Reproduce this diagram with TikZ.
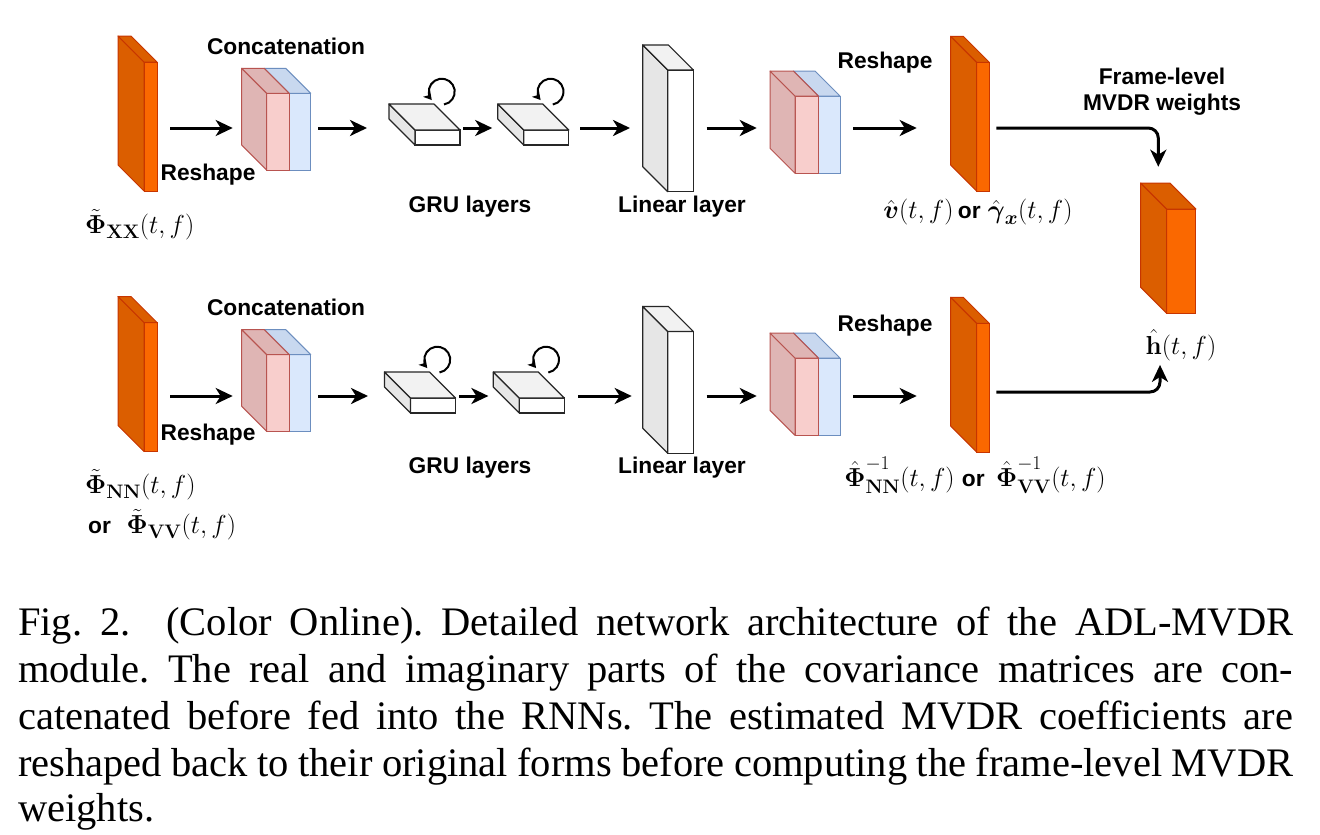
\RequirePackage{fix-cm}
\documentclass[tikz,border=0pt]{standalone}
\usepackage{amsmath}
\usepackage[no-math]{fontspec}
\setsansfont{Liberation Sans}
\newfontfamily\capfont{Liberation Serif}
\usetikzlibrary{arrows.meta}
\DeclareMathSizes{26}{26}{19.5}{15}

\definecolor{orfront}{HTML}{FA6800}
\definecolor{orside}{HTML}{DB5E00}
\definecolor{orline}{HTML}{C73500}
\definecolor{pkfront}{HTML}{F8CECC}
\definecolor{pkside}{HTML}{DFB5B4}
\definecolor{pkline}{HTML}{B85450}
\definecolor{blfront}{HTML}{DAE8FC}
\definecolor{bltop}{HTML}{C8D8EF}
\definecolor{blline}{HTML}{6C8EBF}
\definecolor{gyside}{HTML}{E6E6E6}
\definecolor{gytop}{HTML}{F2F2F2}

% cuboid: name, x, y, width, height, depth, front style, side style, top style
\newcommand{\cuboid}[9]{%
  \node[#7, minimum width=#4, minimum height=#5] (#1) at (#2,#3) {};
  \draw[#8] (#1.north west) -- ++(-#6,-#6) -- ++(0,#5) -- (#1.south west) -- cycle;
  \draw[#9] (#1.north west) -- ++(-#6,-#6) -- ++(#4,0) -- (#1.north east) -- cycle;
}
\newcommand{\orword}{{\fontsize{22.75}{26}\sffamily\bfseries or}}

\begin{document}
\frenchspacing
\begin{tikzpicture}[x=1pt,y=1pt,yscale=-1,
  orf/.style={draw=orline, fill=orfront, line width=1pt, inner sep=0pt, outer sep=0pt},
  ors/.style={draw=orline, fill=orside, line width=1pt, line join=round},
  pkf/.style={draw=pkline, fill=pkfront, line width=1pt, inner sep=0pt, outer sep=0pt},
  pks/.style={draw=pkline, fill=pkside, line width=1pt, line join=round},
  blf/.style={draw=blline, fill=blfront, line width=1pt, inner sep=0pt, outer sep=0pt},
  blt/.style={draw=blline, fill=bltop, line width=1pt, line join=round},
  grf/.style={draw=black!85, fill=white, line width=1.2pt, inner sep=0pt, outer sep=0pt},
  grs/.style={draw=black!85, fill=gyside, line width=1.2pt, line join=round},
  grt/.style={draw=black!85, fill=gytop, line width=1.2pt, line join=round},
  arr/.style={-{Stealth[length=17pt,width=16pt,inset=5pt]}, line width=3pt},
  loopy/.style={-{Stealth[length=8pt,width=9pt,inset=2pt]}, line width=2pt},
  lbl/.style={font=\fontsize{22.75}{26}\sffamily\bfseries, inner sep=0pt},
  mlbl/.style={font=\fontsize{26}{30}\selectfont, inner sep=0pt},
  captext/.style={font=\fontsize{40.5}{47}\capfont, inner sep=0pt, anchor=base west}]
\useasboundingbox[fill=white] (0,0) rectangle (1320,835);

\coordinate (r1) at (0,128);
\coordinate (r2) at (0,396);
\coordinate (r2l) at (0,392);

%Shape: top row blocks
\cuboid{in1}{150.5}{126.5}{13}{129}{26}{orf}{ors}{ors}
\cuboid{cat1b}{300}{131.7}{21.4}{76.7}{25}{blf}{draw=none}{blt}
\cuboid{cat1p}{278}{131.7}{22.6}{76.7}{25}{pkf}{pks}{pks}
\cuboid{gruA1}{437.5}{137.5}{45}{15}{26}{grf}{grs}{grt}
\cuboid{gruB1}{546.3}{137.5}{45}{15}{26}{grf}{grs}{grt}
\cuboid{lin1}{680.5}{130.8}{25.6}{121.7}{25}{grf}{grs}{grt}
\cuboid{rs1b}{829.2}{134.7}{21.7}{77.3}{25}{blf}{draw=none}{blt}
\cuboid{rs1p}{806.7}{134.7}{23.3}{77.3}{25}{pkf}{pks}{pks}
\cuboid{out1}{983}{126.7}{12.6}{128.7}{26}{orf}{ors}{ors}

%Shape: bottom row blocks
\cuboid{in2}{150.5}{387}{13}{129}{26}{orf}{ors}{ors}
\cuboid{cat2b}{300}{393}{21.4}{76.7}{25}{blf}{draw=none}{blt}
\cuboid{cat2p}{278}{393}{22.6}{76.7}{25}{pkf}{pks}{pks}
\cuboid{gruA2}{433}{405.5}{45}{15}{26}{grf}{grs}{grt}
\cuboid{gruB2}{541.8}{405.5}{45}{15}{26}{grf}{grs}{grt}
\cuboid{lin2}{680.5}{392.3}{25.6}{121.7}{25}{grf}{grs}{grt}
\cuboid{rs2b}{829.2}{396.7}{21.7}{77.3}{25}{blf}{draw=none}{blt}
\cuboid{rs2p}{806.7}{396.7}{23.3}{77.3}{25}{pkf}{pks}{pks}
\cuboid{out2}{983}{387.7}{12.6}{128.7}{26}{orf}{ors}{ors}

%Shape: frame-level weights block
\cuboid{hw}{1181.3}{261.2}{29.3}{104.3}{26}{orf}{ors}{ors}

%Recurrent loops
\draw[loopy] (gruA1.north) ++(6.5,-25.5) arc[start angle=80, end angle=-220, radius=13];
\draw[loopy] (gruB1.north) ++(6.5,-25.5) arc[start angle=80, end angle=-220, radius=13];
\draw[loopy] (gruA2.north) ++(6.5,-25.5) arc[start angle=80, end angle=-220, radius=13];
\draw[loopy] (gruB2.north) ++(6.5,-25.5) arc[start angle=80, end angle=-220, radius=13];

%Arrows top row
\draw[arr, shorten <=13pt, shorten >=34pt] (in1.east |- r1) -- (cat1p.west |- r1);
\draw[arr, shorten <=7.3pt, shorten >=48pt] (cat1b.east |- r1) -- (gruA1.west |- r1);
\draw[arr, shorten <=3.3pt, shorten >=31.6pt] (gruA1.east |- r1) -- (gruB1.west |- r1);
\draw[arr, shorten <=11.4pt, shorten >=37.7pt] (gruB1.east |- r1) -- (lin1.west |- r1);
\draw[arr, shorten <=13.4pt, shorten >=38.3pt] (lin1.east |- r1) -- (rs1p.west |- r1);
\draw[arr, shorten <=13.3pt, shorten >=60pt] (rs1b.east |- r1) -- (out1.west |- r1);
\draw[arr, rounded corners=10pt, shorten <=7pt, shorten >=42.3pt] (out1.east |- r1) -| ([xshift=-23pt]hw.north);

%Arrows bottom row
\draw[arr, shorten <=13pt, shorten >=34pt] (in2.east |- r2) -- (cat2p.west |- r2);
\draw[arr, shorten <=7.3pt, shorten >=42.5pt] (cat2b.east |- r2) -- (gruA2.west |- r2);
\draw[arr, shorten <=3.8pt, shorten >=30.9pt] (gruA2.east |- r2) -- (gruB2.west |- r2);
\draw[arr, shorten <=14pt, shorten >=36pt] (gruB2.east |- r2) -- (lin2.west |- r2);
\draw[arr, shorten <=13.4pt, shorten >=38.3pt] (lin2.east |- r2) -- (rs2p.west |- r2);
\draw[arr, shorten <=13.3pt, shorten >=60pt] (rs2b.east |- r2) -- (out2.west |- r2);

% Text Node
\node[lbl] (cc1) at (286,46) {Concatenation};
\node[lbl] (rsh1) at (208,175) {Reshape};
\node[mlbl, anchor=west] (phixx) at (85,225) {$\tilde{\boldsymbol{\Phi}}_{\mathbf{XX}}(t,f)$};
\node[lbl] (gru1) at (470,207) {GRU layers};
\node[lbl] (lay1) at (682,207) {Linear layer};
\node[lbl] (rsh1b) at (885,63) {Reshape};
\node[mlbl] (vlab) at (978,212) {$\hat{\boldsymbol{v}}(t,f)$\,\orword\;$\hat{\boldsymbol{\gamma}}_{\boldsymbol{x}}(t,f)$};
\node[lbl, align=center] (fl) at (1162,92) {Frame-level\\MVDR weights};
\node[mlbl] (hlab) at (1181,345) {$\hat{\mathbf{h}}(t,f)$};

% Text Node
\node[lbl] (cc2) at (286,307) {Concatenation};
\node[lbl] (rsh2) at (208,435) {Reshape};
\node[mlbl, anchor=west] (phinn) at (85,485) {$\tilde{\boldsymbol{\Phi}}_{\mathbf{NN}}(t,f)$};
\node[mlbl, anchor=west] (phivv) at (88,525) {\orword\ \ $\tilde{\boldsymbol{\Phi}}_{\mathbf{VV}}(t,f)$};
\node[lbl] (gru2) at (470,468) {GRU layers};
\node[lbl] (lay2) at (682,468) {Linear layer};
\node[lbl] (rsh2b) at (885,326) {Reshape};
\node[mlbl] (philab) at (975,475) {$\hat{\boldsymbol{\Phi}}^{-1}_{\mathbf{NN}}(t,f)$\;\orword\;\,$\hat{\boldsymbol{\Phi}}^{-1}_{\mathbf{VV}}(t,f)$};

\draw[arr, rounded corners=10pt, shorten <=7pt, shorten >=4pt] (out2.east |- r2l) -| ([xshift=-21pt]hlab.south);

% Caption
\node[captext] (c1) at (18,635) {\makebox[1275pt][s]{Fig. 2.\ \ (Color Online). Detailed network architecture of the ADL-MVDR}};
\node[captext] (c2) at (18,682) {\makebox[1275pt][s]{module. The real and imaginary parts of the covariance matrices are con-}};
\node[captext] (c3) at (18,729) {\makebox[1275pt][s]{catenated before fed into the RNNs. The estimated MVDR coefficients are}};
\node[captext] (c4) at (18,776) {\makebox[1275pt][s]{reshaped back to their original forms before computing the frame-level MVDR}};
\node[captext] (c5) at (18,821) {weights.};

\end{tikzpicture}
\end{document}
